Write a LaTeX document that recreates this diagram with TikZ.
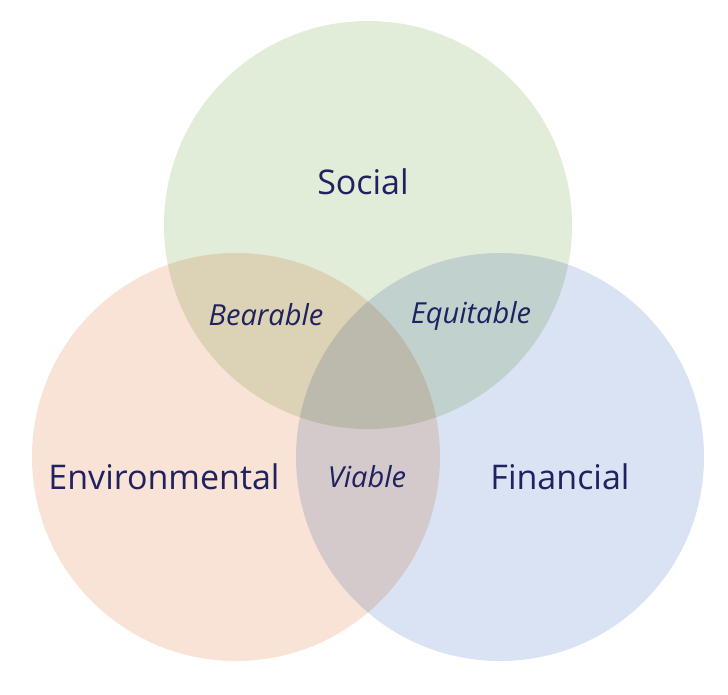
\documentclass[tikz,border=0pt]{standalone}
\usepackage{fontspec}
\setmainfont{Open Sans}
\definecolor{socialc}{HTML}{E2EDD9}
\definecolor{envc}{HTML}{F9E3D6}
\definecolor{finc}{HTML}{DAE3F3}
\definecolor{txtc}{HTML}{20215F}
\tikzset{
  mainlabel/.style={text=txtc, font=\fontsize{34}{40}\selectfont, inner sep=0pt, anchor=center},
  sublabel/.style={text=txtc, font=\fontsize{29}{34}\selectfont\itshape, inner sep=0pt, anchor=center},
}
\begin{document}
\begin{tikzpicture}[x=1pt,y=-1pt]
\useasboundingbox (0,0) rectangle (728,695);
\fill[white] (0,0) rectangle (728,695);
\begin{scope}[blend group=multiply]
  \fill[socialc] (368,225) circle[radius=204pt];
  \fill[envc] (236,457) circle[radius=204pt];
  \fill[finc] (500,457) circle[radius=204pt];
\end{scope}
\node[mainlabel] (social) at (363,182) {Social};
\node[mainlabel] (env) at (164,477) {Environmental};
\node[mainlabel] (fin) at (560,477) {Financial};
\node[sublabel] (bear) at (266,315) {Bearable};
\node[sublabel] (equi) at (471,316) {Equitable};
\node[sublabel] (viab) at (367,477) {Viable};
\end{tikzpicture}
\end{document}
